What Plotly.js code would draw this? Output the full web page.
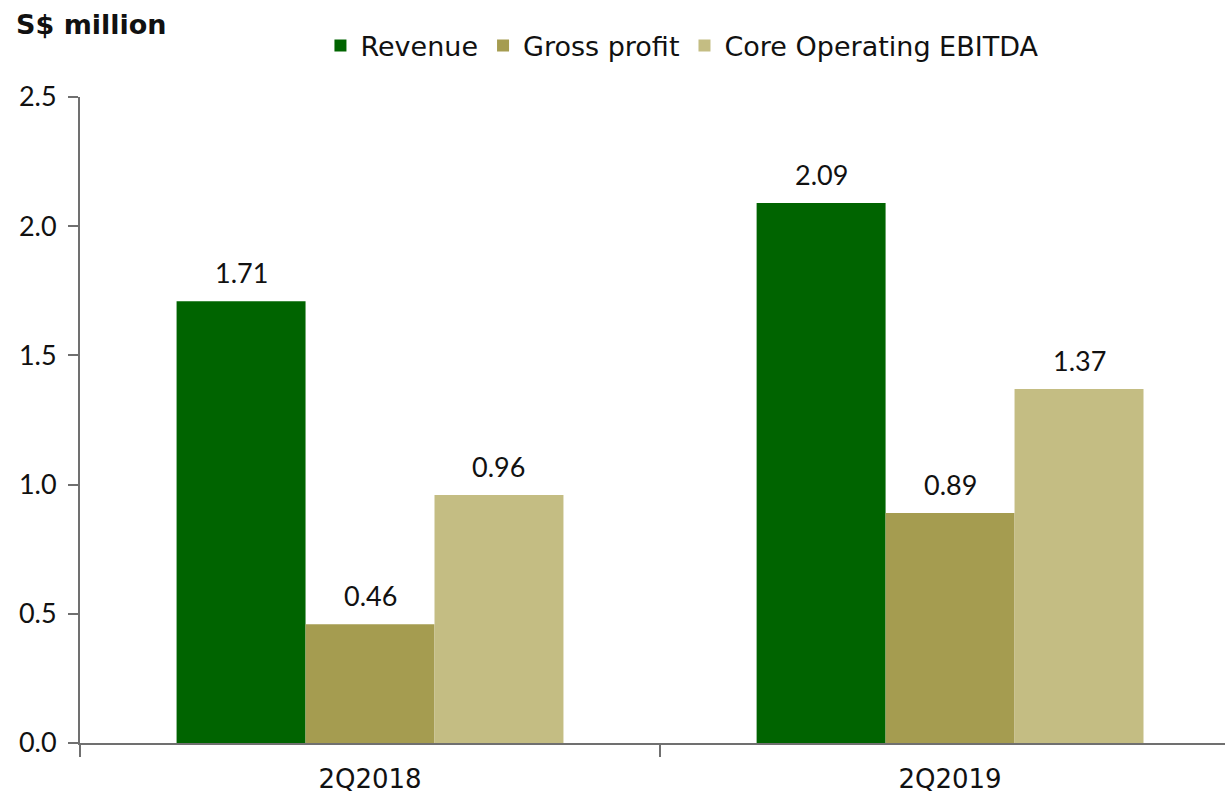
<!DOCTYPE html>
<html>
<head>
<meta charset="utf-8">
<script src="https://cdn.plot.ly/plotly-3.0.1.min.js"></script>
<style>html,body{margin:0;padding:0;background:#fff;}#chart{width:1225px;height:795px;}</style>
</head>
<body>
<div id="chart"></div>
<script>
var categories = ["2Q2018", "2Q2019"];
var seriesNames = ["Revenue", "Gross profit", "Core Operating EBITDA"];
var revenue = [1.71, 2.09];
var grossProfit = [0.46, 0.89];
var coreEbitda = [0.96, 1.37];
var yTickVals = [0, 0.5, 1.0, 1.5, 2.0, 2.5];
var yTickText = ["0.0", "0.5", "1.0", "1.5", "2.0", "2.5"];
var colors = ["#006400", "#A59C50", "#C4BD83"];

var NUMFONT = "Lato, 'Open Sans', sans-serif";
var WIDEFONT = "'DejaVu Sans', Lato, sans-serif";
var BARGAP = 0.333;
var values = [revenue, grossProfit, coreEbitda];
var nSeries = values.length;
var barWidth = (1 - BARGAP) / nSeries;

var traces = values.map(function (v, i) {
  return {
    type: "bar",
    name: seriesNames[i],
    x: categories,
    y: v,
    marker: {color: colors[i]},
    hoverinfo: "skip"
  };
});

var annotations = [];
values.forEach(function (v, i) {
  v.forEach(function (d, j) {
    annotations.push({
      xref: "x", yref: "y",
      x: j + (i - (nSeries - 1) / 2) * barWidth,
      y: d,
      text: d.toFixed(2),
      showarrow: false,
      xanchor: "center", yanchor: "bottom",
      yshift: 10,
      font: {family: NUMFONT, size: 27, color: "#111"}
    });
  });
});

var layout = {
  width: 1225,
  height: 795,
  margin: {l: 80, r: 0, t: 97, b: 52},
  paper_bgcolor: "#fff",
  plot_bgcolor: "#fff",
  barmode: "group",
  bargap: BARGAP,
  bargroupgap: 0,
  font: {family: NUMFONT, color: "#111"},
  title: {
    text: "<b>S$ million</b>",
    font: {family: WIDEFONT, size: 27, color: "#111"},
    x: 16 / 1225, xanchor: "left", xref: "container",
    y: 1 - 25 / 795, yanchor: "middle", yref: "container"
  },
  annotations: annotations,
  showlegend: true,
  legend: {
    orientation: "h",
    x: 0.21, xanchor: "left",
    y: 1.079, yanchor: "middle",
    font: {family: WIDEFONT, size: 27, color: "#111"},
    itemwidth: 30,
    tracegroupgap: 0,
    traceorder: "normal"
  },
  xaxis: {
    type: "category",
    range: [-0.5, 1.474],
    tickson: "boundaries",
    ticks: "outside",
    ticklen: 12,
    tickwidth: 2,
    tickcolor: "#707070",
    showline: true,
    linewidth: 2,
    linecolor: "#707070",
    showgrid: false,
    zeroline: false,
    ticklabelstandoff: 12,
    tickfont: {family: WIDEFONT, size: 26, color: "#111"},
    fixedrange: true
  },
  yaxis: {
    range: [0, 2.5],
    tickvals: yTickVals,
    ticktext: yTickText,
    ticks: "outside",
    ticklen: 10,
    tickwidth: 2,
    tickcolor: "#707070",
    showline: true,
    linewidth: 2,
    linecolor: "#707070",
    showgrid: false,
    zeroline: false,
    ticklabelstandoff: 6,
    tickfont: {family: NUMFONT, size: 27, color: "#111"},
    fixedrange: true
  }
};

Plotly.newPlot("chart", traces, layout, {displayModeBar: false, staticPlot: true});
</script>
</body>
</html>
